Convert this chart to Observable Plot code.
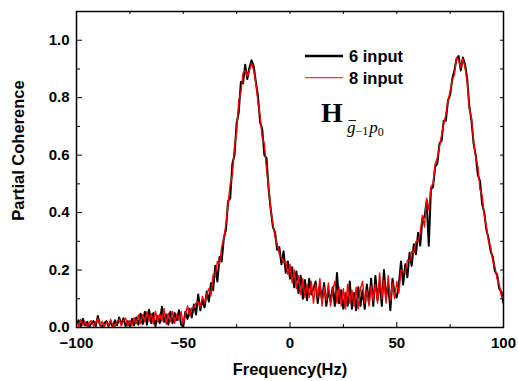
<!DOCTYPE html>
<html>
<head>
<meta charset="utf-8">
<script src="https://cdn.jsdelivr.net/npm/d3@7"></script>
<script src="https://cdn.jsdelivr.net/npm/@observablehq/plot@0.6"></script>
<style>
  html, body { margin: 0; padding: 0; background: white; }
  svg { display: block; }
</style>
</head>
<body>
<div id="chart"></div>
<script>
// Frequency grid (Hz): -100 .. 100, 1 Hz step
const freqStart = -100;
const freqStep = 1;

// Partial coherence, 6 input (black)
const coh6 = [
  0.010, 0.025, 0.003, 0.030, 0.008, 0.020, 0.003, 0.015, 0.022, 0.005,
  0.040, 0.010, 0.003, 0.015, 0.022, 0.005, 0.018, 0.003, 0.025, 0.008,
  0.035, 0.010, 0.032, 0.005, 0.022, 0.003, 0.030, 0.008, 0.035, 0.010,
  0.048, 0.012, 0.055, 0.010, 0.062, 0.015, 0.050, 0.005, 0.040, 0.015,
  0.072, 0.020, 0.045, 0.010, 0.055, 0.015, 0.050, 0.025, 0.060, 0.010,
  0.003, 0.055, 0.030, 0.065, 0.035, 0.080, 0.045, 0.115, 0.060, 0.095,
  0.070, 0.125, 0.090, 0.155, 0.130, 0.215, 0.160, 0.245, 0.230, 0.310,
  0.340, 0.440, 0.450, 0.570, 0.600, 0.710, 0.750, 0.855, 0.850, 0.915,
  0.865, 0.905, 0.930, 0.910, 0.855, 0.805, 0.715, 0.690, 0.600, 0.590,
  0.480, 0.410, 0.350, 0.330, 0.270, 0.280, 0.220, 0.265, 0.190, 0.230,
  0.170, 0.210, 0.140, 0.195, 0.120, 0.180, 0.100, 0.165, 0.095, 0.170,
  0.115, 0.135, 0.160, 0.085, 0.145, 0.095, 0.155, 0.075, 0.130, 0.090,
  0.140, 0.075, 0.190, 0.085, 0.130, 0.065, 0.120, 0.075, 0.160, 0.065,
  0.120, 0.060, 0.140, 0.075, 0.130, 0.065, 0.150, 0.085, 0.170, 0.075,
  0.180, 0.095, 0.160, 0.075, 0.200, 0.105, 0.150, 0.060, 0.170, 0.115,
  0.105, 0.150, 0.230, 0.150, 0.220, 0.175, 0.260, 0.215, 0.290, 0.255,
  0.330, 0.285, 0.380, 0.385, 0.440, 0.285, 0.480, 0.490, 0.560, 0.570,
  0.640, 0.650, 0.720, 0.720, 0.790, 0.810, 0.865, 0.895, 0.935, 0.945,
  0.895, 0.940, 0.915, 0.865, 0.770, 0.720, 0.640, 0.600, 0.530, 0.510,
  0.430, 0.400, 0.340, 0.310, 0.265, 0.245, 0.195, 0.185, 0.135, 0.125,
  0.085
];

// Partial coherence, 8 input (red)
const coh8 = [
  0.022, 0.004, 0.028, 0.008, 0.020, 0.003, 0.018, 0.024, 0.004, 0.016,
  0.032, 0.006, 0.022, 0.003, 0.018, 0.008, 0.028, 0.006, 0.003, 0.022,
  0.028, 0.006, 0.024, 0.032, 0.006, 0.024, 0.006, 0.034, 0.014, 0.044,
  0.014, 0.045, 0.020, 0.055, 0.022, 0.048, 0.012, 0.056, 0.020, 0.046,
  0.022, 0.066, 0.012, 0.050, 0.020, 0.056, 0.015, 0.046, 0.025, 0.055,
  0.012, 0.046, 0.075, 0.040, 0.068, 0.070, 0.085, 0.090, 0.070, 0.108,
  0.085, 0.115, 0.135, 0.110, 0.185, 0.180, 0.230, 0.220, 0.280, 0.310,
  0.360, 0.430, 0.500, 0.530, 0.630, 0.680, 0.790, 0.820, 0.885, 0.895,
  0.875, 0.895, 0.920, 0.895, 0.850, 0.785, 0.735, 0.660, 0.640, 0.550,
  0.490, 0.410, 0.360, 0.315, 0.290, 0.255, 0.245, 0.225, 0.230, 0.185,
  0.220, 0.155, 0.200, 0.135, 0.180, 0.115, 0.170, 0.105, 0.150, 0.105,
  0.160, 0.085, 0.150, 0.105, 0.170, 0.075, 0.140, 0.095, 0.155, 0.075,
  0.130, 0.160, 0.085, 0.140, 0.075, 0.135, 0.065, 0.150, 0.085, 0.130,
  0.075, 0.140, 0.065, 0.135, 0.160, 0.085, 0.130, 0.075, 0.145, 0.095,
  0.150, 0.085, 0.190, 0.100, 0.165, 0.085, 0.180, 0.095, 0.155, 0.100,
  0.160, 0.120, 0.200, 0.195, 0.190, 0.235, 0.230, 0.265, 0.260, 0.300,
  0.300, 0.330, 0.390, 0.350, 0.450, 0.410, 0.490, 0.500, 0.570, 0.590,
  0.630, 0.670, 0.710, 0.740, 0.790, 0.820, 0.860, 0.880, 0.940, 0.930,
  0.905, 0.935, 0.905, 0.855, 0.760, 0.730, 0.650, 0.590, 0.560, 0.480,
  0.460, 0.390, 0.350, 0.300, 0.280, 0.230, 0.210, 0.170, 0.150, 0.110,
  0.100
];

// Tick values
const xMajorTicks = [-100, -50, 0, 50, 100];
const xMinorTicks = [-75, -25, 25, 75];
const yMajorTicks = [0.0, 0.2, 0.4, 0.6, 0.8, 1.0];
const yMinorTicks = [0.1, 0.3, 0.5, 0.7, 0.9];

const seriesNames = ["6 input", "8 input"];
const seriesColors = ["black", "red"];

// Build tables
const rows6 = coh6.map((v, i) => ({f: freqStart + i * freqStep, v}));
const rows8 = coh8.map((v, i) => ({f: freqStart + i * freqStep, v}));

const W = 518, H = 381;
const mL = 76, mR = 15, mT = 11, mB = 54;
const plotW = W - mL - mR, plotH = H - mT - mB;
const font = "'Liberation Sans', Arial, sans-serif";

const chart = Plot.plot({
  width: W, height: H,
  marginLeft: mL, marginRight: mR, marginTop: mT, marginBottom: mB,
  x: {domain: [-100, 100]},
  y: {domain: [0, 1.1]},
  style: {fontFamily: font, fontWeight: "bold", fontSize: "15px", color: "black", background: "white", overflow: "visible"},
  marks: [
    Plot.line(rows6, {x: "f", y: "v", stroke: seriesColors[0], strokeWidth: 2.0, clip: true}),
    Plot.line(rows8, {x: "f", y: "v", stroke: seriesColors[1], strokeWidth: 1.4, clip: true}),
    // bottom ticks (inward)
    Plot.ruleX(xMajorTicks, {insetTop: plotH - 5, stroke: "black", strokeWidth: 1}),
    Plot.ruleX(xMinorTicks, {insetTop: plotH - 3, stroke: "black", strokeWidth: 1}),
    // top ticks
    Plot.ruleX(xMajorTicks.concat(xMinorTicks), {insetBottom: plotH - 3, stroke: "black", strokeWidth: 1}),
    // left ticks
    Plot.ruleY(yMajorTicks, {insetRight: plotW - 6, stroke: "black", strokeWidth: 1}),
    Plot.ruleY(yMinorTicks, {insetRight: plotW - 4, stroke: "black", strokeWidth: 1}),
    // right ticks
    Plot.ruleY(yMajorTicks.concat(yMinorTicks), {insetLeft: plotW - 3, stroke: "black", strokeWidth: 1}),
    Plot.frame({stroke: "black", strokeWidth: 1.5}),
    Plot.axisX(xMajorTicks, {tickSize: 0, tickPadding: 10, label: null, fontSize: 15, fontWeight: "bold"}),
    Plot.axisY(yMajorTicks, {tickSize: 0, tickPadding: 7, label: null, tickFormat: d3.format(".1f"), fontSize: 15, fontWeight: "bold"})
  ]
});

document.getElementById("chart").appendChild(chart);

const svg = d3.select(chart);

// Axis titles
svg.append("text")
  .attr("x", 290).attr("y", 375)
  .attr("text-anchor", "middle")
  .attr("font-family", font).attr("font-weight", "bold").attr("font-size", 16.5)
  .attr("fill", "black")
  .text("Frequency(Hz)");

svg.append("text")
  .attr("transform", "translate(24,150.5) rotate(-90)")
  .attr("text-anchor", "middle")
  .attr("font-family", font).attr("font-weight", "bold").attr("font-size", 16.5)
  .attr("fill", "black")
  .text("Partial Coherence");

// Legend
const legend = svg.append("g").attr("text-anchor", "start");
[[56, 2.4], [77.7, 1]].forEach(([ly, sw], i) => {
  legend.append("line")
    .attr("x1", 305).attr("x2", 343).attr("y1", ly).attr("y2", ly)
    .attr("stroke", seriesColors[i]).attr("stroke-width", sw);
  legend.append("text")
    .attr("x", 349).attr("y", ly + 6)
    .attr("text-anchor", "start")
    .attr("font-family", font).attr("font-weight", "bold").attr("font-size", 16.5)
    .attr("fill", "black")
    .text(seriesNames[i]);
});

// Annotation H_{\bar g_{-1} p_0}
const serif = "'Liberation Serif', 'Times New Roman', serif";
const ann = svg.append("g").attr("font-family", serif).attr("fill", "black").attr("text-anchor", "start");
ann.append("text").attr("x", 321).attr("y", 122).attr("text-anchor", "start")
  .attr("font-weight", "bold").attr("font-size", 28).text("H");
const sub = ann.append("text").attr("x", 347).attr("y", 133).attr("text-anchor", "start")
  .attr("font-weight", "normal").attr("font-size", 17);
sub.append("tspan").attr("font-style", "italic").text("g");
sub.append("tspan").attr("font-size", 12).attr("dy", 2).text("−1");
sub.append("tspan").attr("font-style", "italic").attr("font-size", 17).attr("dy", -2).attr("dx", 1).text("p");
sub.append("tspan").attr("font-size", 12).attr("dy", 3).text("0");
ann.append("line").attr("x1", 348.5).attr("x2", 356).attr("y1", 120.5).attr("y2", 120.5)
  .attr("stroke", "black").attr("stroke-width", 0.9);
</script>
</body>
</html>
